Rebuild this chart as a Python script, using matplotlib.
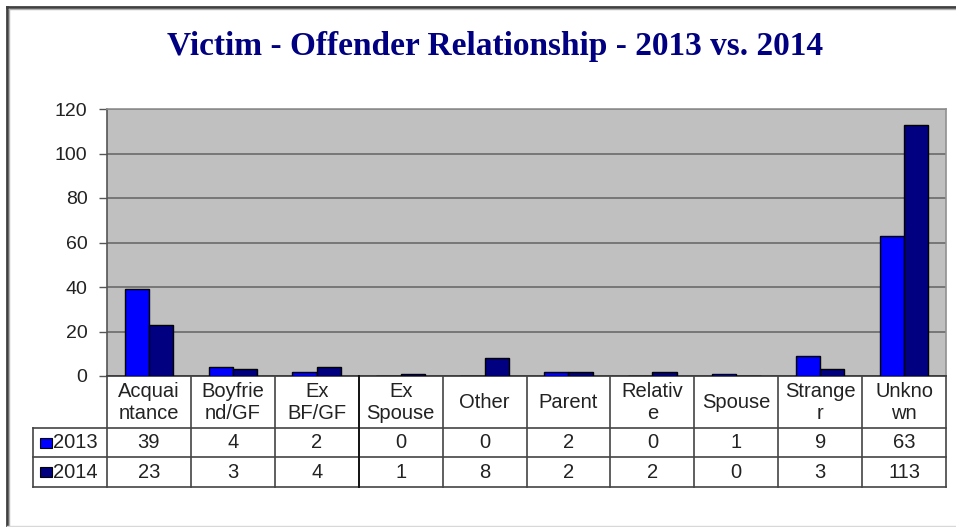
import matplotlib.pyplot as plt
from matplotlib.patches import Rectangle
from matplotlib.lines import Line2D

# data
categories = ["Acquai\nntance", "Boyfrie\nnd/GF", "Ex\nBF/GF", "Ex\nSpouse", "Other",
              "Parent", "Relativ\ne", "Spouse", "Strange\nr", "Unkno\nwn"]
years = ["2013", "2014"]
values_2013 = [39, 4, 2, 0, 0, 2, 0, 1, 9, 63]
values_2014 = [23, 3, 4, 1, 8, 2, 2, 0, 3, 113]
y_ticks = [0, 20, 40, 60, 80, 100, 120]

colors = ["#0000FF", "#000080"]
W, H = 956, 527
fs = 14.5

plt.rcParams["font.family"] = ["Liberation Sans", "DejaVu Sans"]

fig = plt.figure(figsize=(W / 100, H / 100), dpi=100)
fig.patch.set_facecolor("white")


def px(x0, y0, x1, y1):
    """pixel box -> figure fraction rect"""
    return [x0 / W, 1 - y1 / H, (x1 - x0) / W, (y1 - y0) / H]


# outer frame
fig.add_artist(Line2D([7 / W, 7 / W], [0, 1 - 7 / H], color="#404040", lw=2, transform=fig.transFigure))
fig.add_artist(Line2D([7 / W, 1], [1 - 7 / H, 1 - 7 / H], color="#404040", lw=2, transform=fig.transFigure))
fig.add_artist(Line2D([9 / W, 9 / W], [0, 1 - 9 / H], color="#b0b0b0", lw=1, transform=fig.transFigure))
fig.add_artist(Line2D([9 / W, 1], [1 - 9 / H, 1 - 9 / H], color="#b0b0b0", lw=1, transform=fig.transFigure))
fig.add_artist(Line2D([7 / W, 1], [1.5 / H, 1.5 / H], color="#d8d8d8", lw=1, transform=fig.transFigure))

fig.text(495 / W, 1 - 47 / H, "Victim - Offender Relationship - 2013 vs. 2014",
         family="Liberation Serif", fontweight="bold", fontsize=24, color="#000080",
         ha="center", va="center")

# main bar chart
ax = fig.add_axes(px(107, 109, 946, 376))
ax.set_facecolor("#C0C0C0")
x = list(range(len(categories)))
bw = 0.29
ax.bar([i - bw / 2 for i in x], values_2013, bw, color=colors[0], edgecolor="black", linewidth=1, zorder=3)
ax.bar([i + bw / 2 for i in x], values_2014, bw, color=colors[1], edgecolor="black", linewidth=1, zorder=3)
ax.set_xlim(-0.5, len(categories) - 0.5)
ax.set_ylim(0, 120)
ax.set_yticks(y_ticks)
ax.set_xticks([])
ax.yaxis.grid(True, color="#6a6a6a", linewidth=1.2, zorder=1)
ax.set_axisbelow(True)
ax.tick_params(axis="y", length=5.5, width=1, color="#555555", labelsize=14, labelcolor="#222222", pad=8.5)
for side in ["top", "right"]:
    ax.spines[side].set_color("#909090")
ax.spines["left"].set_color("#555555")
ax.spines["bottom"].set_color("#333333")
for s in ax.spines.values():
    s.set_linewidth(1.2)

# data table below the plot
tx = fig.add_axes(px(33, 376, 946, 487))
cw = 83.9
label_w = 74 / cw
tx.set_xlim(-0.5 - label_w, len(categories) - 0.5)
tx.set_ylim(111, 0)
tx.axis("off")
lc = "#444444"
left = -0.5 - label_w
right = len(categories) - 0.5
rows = [0, 52, 81, 111]
# horizontal lines
for yy in rows[1:]:
    tx.plot([left, right], [yy, yy], color=lc, lw=1.2, clip_on=False)
# vertical lines
for i in range(len(categories) + 1):
    xx = i - 0.5
    c = "#111111" if i == 3 else lc
    tx.plot([xx, xx], [0, 111], color=c, lw=1.4 if i == 3 else 1.2, clip_on=False)
tx.plot([left, left], [52, 111], color=lc, lw=1.2, clip_on=False)

for i, name in enumerate(categories):
    tx.text(i, 26.5, name, ha="center", va="center", fontsize=fs, color="#222222", linespacing=1.2)
for r, (yr, vals) in enumerate(zip(years, [values_2013, values_2014])):
    yc = (rows[r + 1] + rows[r + 2]) / 2
    for i, v in enumerate(vals):
        tx.text(i, yc, str(v), ha="center", va="center", fontsize=fs, color="#222222")
    tx.add_patch(Rectangle((left + 7 / cw, yc - 5), 12 / cw, 10, facecolor=colors[r], edgecolor="black",
                           lw=0.8, clip_on=False))
    tx.text(left + 20 / cw, yc, yr, ha="left", va="center", fontsize=fs, color="#222222")

fig.savefig("out.png", dpi=100)
